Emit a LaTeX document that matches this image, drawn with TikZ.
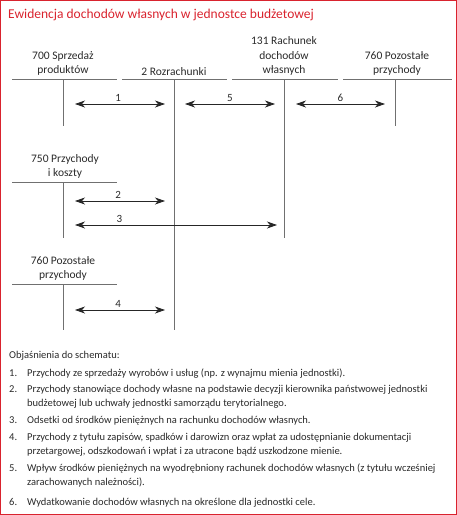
\documentclass[tikz,border=0pt]{standalone}
\usepackage{fontspec}
\setmainfont{Carlito}
\usepackage{tikz}
\usetikzlibrary{arrows.meta,positioning}
\definecolor{framered}{HTML}{D9232E}
\definecolor{linegrey}{HTML}{707070}
\definecolor{textgrey}{HTML}{2A2A2A}

\begin{document}
\begin{tikzpicture}[
    x=1pt, y=-1pt,
    account/.style={anchor=south, align=center, inner sep=1pt, font=\fontsize{11.5}{14.5}\selectfont, text=textgrey},
    tline/.style={draw=linegrey, line width=0.9pt},
    flow/.style={{Stealth[length=10pt,width=7pt,inset=3pt]}-{Stealth[length=10pt,width=7pt,inset=3pt]}, line width=0.8pt, draw=black!85},
    flowlbl/.style={above=1pt, inner sep=1pt, font=\fontsize{11}{13}\selectfont, text=textgrey},
    note/.style={anchor=base west, align=left, inner sep=0pt, font=\fontsize{10.5}{14.5}\selectfont, text=textgrey},
    num/.style={anchor=base west, inner sep=0pt, font=\fontsize{10.5}{14.5}\selectfont, text=textgrey},
]

\useasboundingbox (0,0) rectangle (457,515);
\draw[framered, line width=1.2pt] (0.6,0.6) rectangle (456.4,514.4);

\node[anchor=west, inner sep=0pt, text=framered, font=\fontsize{13.5}{16}\selectfont] (title) at (8,15) {Ewidencja dochodów własnych w jednostce budżetowej};

\node[account] (a700) at (63,77) {700 Sprzedaż\\produktów};
\node[account] (a2) at (174,77) {2 Rozrachunki};
\node[account] (a131) at (284,77) {131 Rachunek\\dochodów\\własnych};
\node[account] (a760) at (397,77) {760 Pozostałe\\przychody};
\node[account] (a750) at (65,180) {750 Przychody\\i koszty};
\node[account] (a760b) at (63,282) {760 Pozostałe\\przychody};

\draw[tline] (12,79) -- (117,79) (63,79) -- (63,126);
\draw[tline] (122,79) -- (227,79) (174,79) -- (174,330);
\draw[tline] (232,79) -- (338,79) (284,79) -- (284,238);
\draw[tline] (343,79) -- (452,79) (395,79) -- (395,126);
\draw[tline] (12,182) -- (117,182) (63,182) -- (63,238);
\draw[tline] (12,284) -- (117,284) (63,284) -- (63,330);

\coordinate (p1a) at (75,104);  \coordinate (p1b) at (165,104);
\coordinate (p5a) at (185,104); \coordinate (p5b) at (275,104);
\coordinate (p6a) at (296,104); \coordinate (p6b) at (385,104);
\coordinate (p2a) at (75,201);  \coordinate (p2b) at (165,201);
\coordinate (p3a) at (75,225);  \coordinate (p3b) at (277,225);
\coordinate (p4a) at (75,310);  \coordinate (p4b) at (165,310);

\draw[flow] (p1a) -- node[flowlbl, pos=0.48] (l1) {1} (p1b);
\draw[flow] (p5a) -- node[flowlbl] (l5) {5} (p5b);
\draw[flow] (p6a) -- node[flowlbl] (l6) {6} (p6b);
\draw[flow] (p2a) -- node[flowlbl, pos=0.48] (l2) {2} (p2b);
\draw[flow] (p3a) -- node[flowlbl, pos=0.22] (l3) {3} (p3b);
\draw[flow] (p4a) -- node[flowlbl, pos=0.48] (l4) {4} (p4b);

\node[note] (head) at (9,358) {Objaśnienia do schematu:};
\node[num] (n1) at (9,376) {1.};
\node[note] (e1) at (27,376) {Przychody ze sprzedaży wyrobów i usług (np. z wynajmu mienia jednostki).};
\node[num] (n2) at (9,392) {2.};
\node[note] (e2) at (27,406.5) {Przychody stanowiące dochody własne na podstawie decyzji kierownika państwowej jednostki\\budżetowej lub uchwały jednostki samorządu terytorialnego.};
\node[num] (n3) at (9,423) {3.};
\node[note] (e3) at (27,423) {Odsetki od środków pieniężnych na rachunku dochodów własnych.};
\node[num] (n4) at (9,440) {4.};
\node[note] (e4) at (27,454.5) {Przychody z tytułu zapisów, spadków i darowizn oraz wpłat za udostępnianie dokumentacji\\przetargowej, odszkodowań i wpłat i za utracone bądź uszkodzone mienie.};
\node[num] (n5) at (9,471) {5.};
\node[note] (e5) at (27,485.5) {Wpływ środków pieniężnych na wyodrębniony rachunek dochodów własnych (z tytułu wcześniej\\zarachowanych należności).};
\node[num] (n6) at (9,505) {6.};
\node[note] (e6) at (27,505) {Wydatkowanie dochodów własnych na określone dla jednostki cele.};

\end{tikzpicture}
\end{document}
